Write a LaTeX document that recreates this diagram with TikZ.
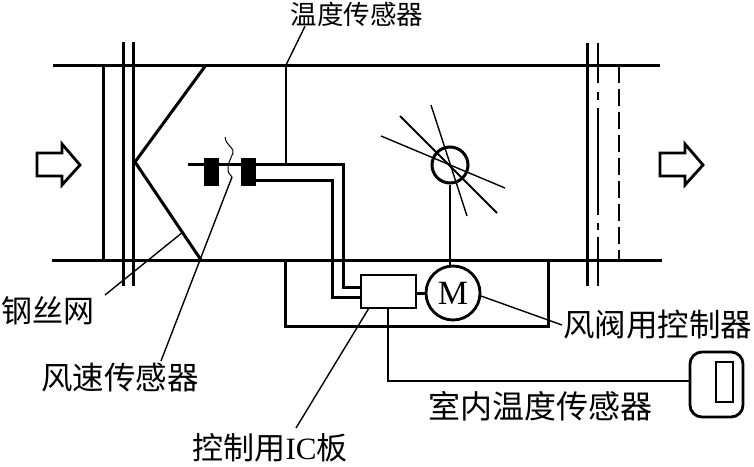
\documentclass[tikz,border=0pt]{standalone}
\usepackage{fontspec}
\setmainfont{Liberation Serif}
\newfontfamily\cjk{Noto Sans CJK SC}
\tikzset{
  thick3/.style={line width=3pt,line cap=butt},
  mid2/.style={line width=2.4pt},
  thin1/.style={line width=1.4pt},
  lbl/.style={inner sep=0pt,outer sep=0pt,text=black},
  blk/.style={fill=black,draw=none},
}
\newcommand{\zh}[1]{{\cjk #1}}
\begin{document}
\begin{tikzpicture}[x=1pt,y=-1pt]
\useasboundingbox (0,0) rectangle (754,466);
% duct
\coordinate (dtl) at (53,65); \coordinate (dtr) at (660,65);
\coordinate (dbl) at (52,260); \coordinate (dbr) at (662,260);
\draw[thick3] (dtl) -- (dtr);
\draw[thick3] (dbl) -- (dbr);
% frames
\draw[thick3] (103,65) -- (103,260);
\draw[thick3] (123.5,42) -- (123.5,286);
\draw[thick3] (133,42) -- (133,286);
\draw[thick3] (587.5,43) -- (587.5,286);
\draw[thin1,dash pattern=on 40pt off 9pt on 8pt off 8pt on 107pt off 8pt on 7pt off 7pt on 60pt off 0pt] (598,43) -- (598,286);
\draw[thin1,dash pattern=on 17pt off 6pt on 17pt off 6pt] (619,66) -- (619,260);
% mesh
\coordinate (ma) at (206,65); \coordinate (mb) at (135,162); \coordinate (mc) at (201,260);
\draw[thick3] (ma) -- (mb) -- (mc);
% arrows
\draw[line width=2.8pt,miter limit=10] (37,153) -- (62,153) -- (62,144) -- (80,165) -- (62,185) -- (62,176) -- (37,176) -- cycle;
\draw[line width=2.8pt,miter limit=10] (660,153) -- (685,153) -- (685,144) -- (703,165) -- (685,185) -- (685,176) -- (660,176) -- cycle;
% sensor
\node[blk,minimum width=15.5pt,minimum height=28pt,inner sep=0pt] (s1) at (211.5,172) {};
\node[blk,minimum width=15pt,minimum height=28pt,inner sep=0pt] (s2) at (248.5,172) {};
\coordinate (sl) at (188,164);
\node[draw,line width=2.8pt,minimum width=55pt,minimum height=33pt,inner sep=0pt] (ic) at (388.5,291.5) {};
\draw[thick3] (sl) -- (343,164) -- (343,287) -- (361,287);
\draw[thick3] (s2.east |- 0,180) -- (332,180) -- (332,297) -- (361,297);
\draw[line width=1pt] (225,137) .. controls (226,146) and (235,148) .. (233,153) .. controls (231,158) and (227,165) .. (228,170) .. controls (228,174) and (231,174) .. (232,177);
% temp probe
\node[lbl,font=\fontsize{26.5pt}{26.5pt}\selectfont] (tt) at (357,14) {\zh{温度传感器}};
\coordinate (tp) at (286,65);
\draw[line width=2.6pt] (tp) -- (286,164);
\draw[thin1] (tp) -- (tt.south west -| 305,30);
% damper
\node[draw,circle,line width=3pt,minimum size=36pt,inner sep=0pt] (dp) at (450,165) {};
\draw[line width=1.8pt] (400,116) -- (497,213);
\draw[thin1] (381,136) -- (505,188);
\draw[thin1] (431,105) -- (467,216);
% motor
\node[draw,circle,line width=2.8pt,minimum size=54pt,inner sep=0pt,font=\fontsize{34pt}{34pt}\selectfont] (m) at (453,293) {M};
\draw[thin1] (dp.south) -- (dp.south |- m.north);
\draw[thick3] (ic.east |- m.west) -- (m.west);
% controller box
\coordinate (ba) at (285,260); \coordinate (bb) at (548,260);
\draw[thick3] (ba) -- (285,326) -- (548,326) -- (bb);
% room sensor
\node[draw,rounded corners=12pt,line width=2.8pt,minimum width=53pt,minimum height=65pt,inner sep=0pt] (rs) at (716.5,384.5) {};
\node[draw,line width=2.8pt,minimum width=17pt,minimum height=40pt,inner sep=0pt] (ri) at (724.5,382) {};
\draw[thin1] (388,308) -- (388,381) -- (rs.west |- 0,381);
% labels
\node[lbl,font=\fontsize{31pt}{31pt}\selectfont] (l1) at (48,311) {\zh{钢丝网}};
\node[lbl,font=\fontsize{31.5pt}{31.5pt}\selectfont] (l2) at (120,378) {\zh{风速传感器}};
\node[lbl,font=\fontsize{31.5pt}{31.5pt}\selectfont] (l3) at (657.5,325) {\zh{风阀用控制器}};
\node[lbl,font=\fontsize{32pt}{32pt}\selectfont] (l4) at (540,406) {\zh{室内温度传感器}};
\node[lbl,font=\fontsize{31pt}{31pt}\selectfont] (l5) at (270,448) {\zh{控制用}IC\zh{板}};
% leaders
\draw[thin1] (183,232) -- (105,295);
\draw[thin1] (232,177) -- (161,361);
\draw[thin1] (481,296) -- (562,325);
\draw[thin1] (369,308) -- (296,428);
\end{tikzpicture}
\end{document}
